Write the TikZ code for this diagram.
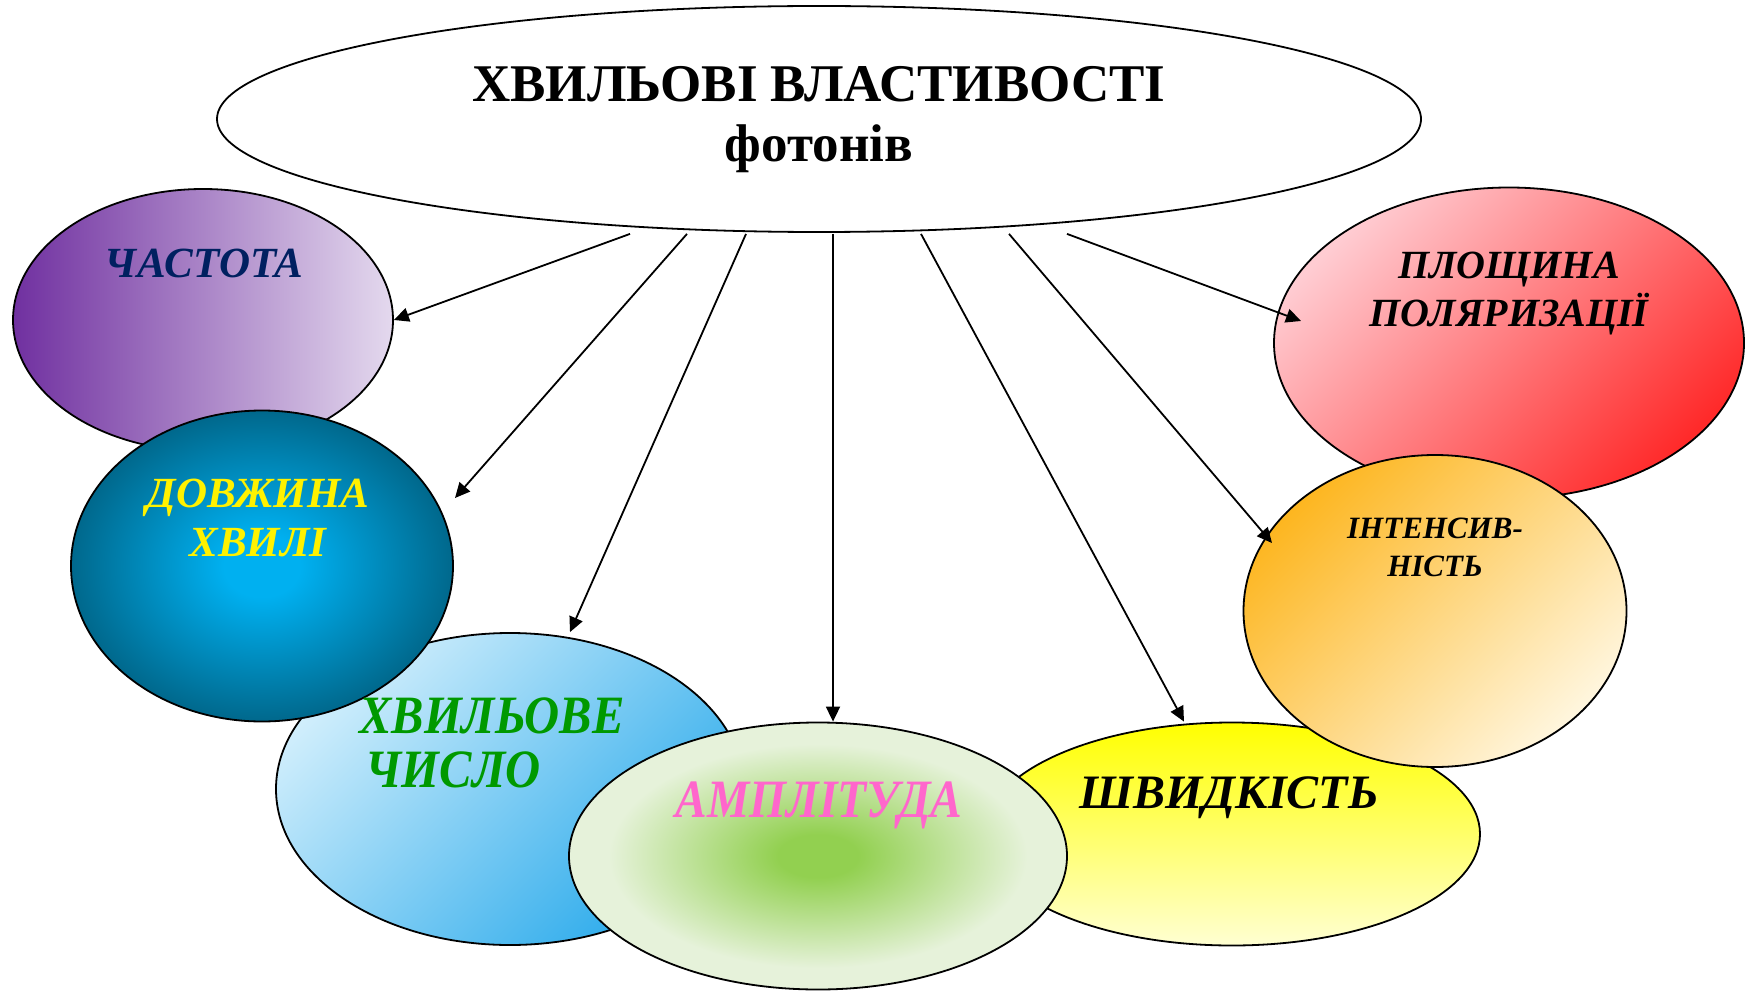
\documentclass[tikz,border=0pt]{standalone}
\usepackage{fontspec}
\usepackage{graphicx}
\setmainfont{Liberation Serif}
\usetikzlibrary{shapes.geometric,arrows.meta,calc}

% fills and text colours
\definecolor{chastL}{HTML}{7030A0}
\definecolor{chastR}{HTML}{E4D9EE}
\definecolor{chastT}{HTML}{002060}
\definecolor{dovzhIn}{HTML}{00B0F0}
\definecolor{dovzhOut}{HTML}{00688C}
\definecolor{khvTL}{HTML}{D0EEFC}
\definecolor{khvBR}{HTML}{2AAAEB}
\definecolor{khvT}{HTML}{009900}
\definecolor{amplIn}{HTML}{92D050}
\definecolor{amplOut}{HTML}{E6F2DA}
\definecolor{amplT}{HTML}{FF66CC}
\definecolor{shvTop}{HTML}{FFFF00}
\definecolor{shvBot}{HTML}{FFFFD2}
\definecolor{intTL}{HTML}{FDB620}
\definecolor{intBR}{HTML}{FFF6DE}
\definecolor{ploTL}{HTML}{FFCCD2}
\definecolor{ploBR}{HTML}{FF2A2A}

\pgfdeclareradialshading{dovzhglow}{\pgfpoint{0bp}{0bp}}{color(0bp)=(dovzhIn); color(5bp)=(dovzhIn); color(25bp)=(dovzhOut); color(50bp)=(dovzhOut)}
\pgfdeclareradialshading{amplglow}{\pgfpoint{0bp}{0bp}}{color(0bp)=(amplIn); color(4bp)=(amplIn); color(21bp)=(amplOut); color(50bp)=(amplOut)}

\tikzset{
  bubble/.style={ellipse, draw=black, line width=1.8pt, inner sep=0pt},
  lbl/.style={anchor=base, inner sep=0pt, font=\bfseries\itshape\fontsize{#1}{#1}\selectfont},
  link/.style={-{Triangle[length=15pt,width=14pt]}, line width=1.8pt},
}

\begin{document}
\begin{tikzpicture}[x=1pt,y=-1pt]
\useasboundingbox (0,0) rectangle (1747,992);

% property bubbles, back to front
\node[bubble, minimum width=380pt, minimum height=262pt, left color=chastL, right color=chastR] (chast) at (203,320) {};
\node[bubble, minimum width=468pt, minimum height=312pt, top color=khvTL, bottom color=khvBR, shading angle=45] (khvch) at (510,789) {};
\node[bubble, minimum width=382pt, minimum height=311pt, shading=dovzhglow] (dovzh) at (262,566) {};
\node[bubble, minimum width=496pt, minimum height=223pt, top color=shvTop, bottom color=shvBot] (shvyd) at (1232,834) {};
\node[bubble, minimum width=498pt, minimum height=267pt, shading=amplglow] (ampl) at (818,856) {};
\node[bubble, minimum width=470pt, minimum height=311pt, top color=ploTL, bottom color=ploBR, shading angle=45] (plosh) at (1509,343) {};
\node[bubble, minimum width=383pt, minimum height=312pt, top color=intTL, bottom color=intBR, shading angle=45] (intens) at (1435,611) {};

% heading
\node[bubble, fill=white, minimum width=1204pt, minimum height=226pt] (top) at (819,119) {};
\node[anchor=base, inner sep=0pt, font=\bfseries\fontsize{53}{53}\selectfont] (title) at (819,102) {ХВИЛЬОВІ ВЛАСТИВОСТІ};
\node[anchor=base, inner sep=0pt, font=\bfseries\fontsize{53}{53}\selectfont] (subtitle) at (819,162) {фотонів};

% labels
\node[lbl=43, text=chastT] (chastA) at (204,277) {ЧАСТОТА};
\node[lbl=43, text=yellow] (dovzhA) at (258,507) {ДОВЖИНА};
\node[lbl=43, text=yellow] (dovzhB) at (258,556) {ХВИЛІ};
\node[lbl=54, text=khvT, anchor=base west] (khvA) at (359,733) {\scalebox{0.9}[1]{ХВИЛЬОВЕ}};
\node[lbl=54, text=khvT, anchor=base west] (khvB) at (365,787) {\scalebox{0.9}[1]{ЧИСЛО}};
\node[lbl=54, text=amplT] (amplA) at (819,817) {\scalebox{0.88}[1]{АМПЛІТУДА}};
\node[lbl=48, text=black] (shvydA) at (1229,808) {ШВИДКІСТЬ};
\node[lbl=40, text=black] (ploshA) at (1509,279) {ПЛОЩИНА};
\node[lbl=40, text=black] (ploshB) at (1509,326) {ПОЛЯРИЗАЦІЇ};
\node[lbl=31, text=black] (intensA) at (1435,538) {ІНТЕНСИВ-};
\node[lbl=31, text=black] (intensB) at (1435,576) {НІСТЬ};

% arrow tails below the heading
\coordinate (s1) at ($(top.south)+(-189,1)$);
\coordinate (s2) at ($(top.south)+(-132,1)$);
\coordinate (s3) at ($(top.south)+(-73,1)$);
\coordinate (s4) at ($(top.south)+(14,1)$);
\coordinate (s5) at ($(top.south)+(102,1)$);
\coordinate (s6) at ($(top.south)+(190,1)$);
\coordinate (s7) at ($(top.south)+(248,1)$);
% arrow tips at the bubbles
\coordinate (t2) at ($(dovzh.center)+(193,-68)$);
\coordinate (t3) at ($(khvch.north)+(60,0)$);
\coordinate (t4) at ($(ampl.north)+(15,0)$);
\coordinate (t5) at ($(shvyd.north)+(-48,0)$);
\coordinate (t6) at ($(intens.center)+(-163,-68)$);
\coordinate (t7) at ($(plosh.center)+(-208,-22)$);

\draw[link] (s1) -- (chast.east);
\draw[link] (s2) -- (t2);
\draw[link] (s3) -- (t3);
\draw[link] (s4) -- (t4);
\draw[link] (s5) -- (t5);
\draw[link] (s6) -- (t6);
\draw[link] (s7) -- (t7);
\end{tikzpicture}
\end{document}
